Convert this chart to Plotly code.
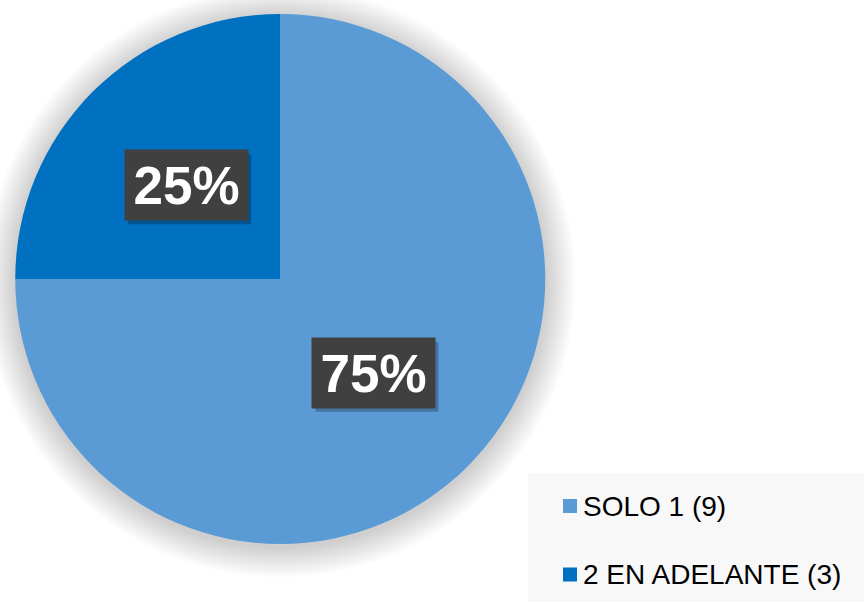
import math
import plotly.graph_objects as go

labels = ["SOLO 1 (9)", "2 EN ADELANTE (3)"]
values = [9, 3]
colors = ["#5B9BD5", "#0070C0"]

W, H = 864, 602
cx, cy, r = 280.25, 279.0, 265.0

fig = go.Figure()
fig.add_trace(go.Pie(
    labels=labels, values=values, sort=False, direction="clockwise", rotation=0,
    marker=dict(colors=colors, line=dict(width=0)),
    textinfo="none", hoverinfo="label+percent", showlegend=False,
    domain=dict(x=[(cx - r) / W, (cx + r) / W], y=[1 - (cy + r) / H, 1 - (cy - r) / H]),
))

shapes = []
# soft shadow around the pie
n = 16
for i in range(n, 0, -1):
    rr = r + i * 1.9
    oy = 3.0
    shapes.append(dict(type="circle", xref="paper", yref="paper", layer="below",
                       x0=(cx - rr) / W, x1=(cx + rr) / W,
                       y0=1 - (cy + oy + rr) / H, y1=1 - (cy + oy - rr) / H,
                       fillcolor="rgba(0,0,0,0.013)", line=dict(width=0)))

# legend background
shapes.append(dict(type="rect", xref="paper", yref="paper", layer="below",
                   x0=528 / W, x1=1, y0=0, y1=1 - 473 / H,
                   fillcolor="#F8F8F8", line=dict(width=0)))

annotations = []
total = sum(values)
start = 0.0
for lab, v in zip(labels, values):
    frac = v / total
    mid = (start + frac / 2) * 2 * math.pi
    start += frac
    px = cx + 0.5 * r * math.sin(mid)
    py = cy - 0.5 * r * math.cos(mid)
    bw, bh = 123, 70
    # box shadow
    shapes.append(dict(type="rect", xref="paper", yref="paper", layer="above",
                       x0=(px - bw / 2 + 3) / W, x1=(px + bw / 2 + 3) / W,
                       y0=1 - (py + bh / 2 + 4) / H, y1=1 - (py - bh / 2 + 4) / H,
                       fillcolor="rgba(0,0,0,0.25)", line=dict(width=0)))
    annotations.append(dict(
        x=px / W, y=1 - py / H, xref="paper", yref="paper", showarrow=False,
        text=f"<b>{round(frac * 100)}%</b>", width=bw, height=bh, borderpad=0,
        bgcolor="#404040", font=dict(family="Liberation Sans, Arial", size=53, color="white"),
        xanchor="center", yanchor="middle"))

# legend entries
leg_y = [506, 574.5]
for lab, col, ly in zip(labels, colors, leg_y):
    shapes.append(dict(type="rect", xref="paper", yref="paper", layer="above",
                       x0=563 / W, x1=577 / W, y0=1 - (ly + 7) / H, y1=1 - (ly - 7) / H,
                       fillcolor=col, line=dict(width=0)))
    annotations.append(dict(
        x=581 / W, y=1 - ly / H, xref="paper", yref="paper", showarrow=False,
        text=lab, xanchor="left", yanchor="middle",
        font=dict(family="Liberation Sans, Arial", size=28, color="#000000")))

fig.update_layout(
    width=W, height=H, margin=dict(l=0, r=0, t=0, b=0),
    paper_bgcolor="white", plot_bgcolor="white",
    shapes=shapes, annotations=annotations, showlegend=False,
)

fig.write_html("out.html", config={"displayModeBar": False},
               post_script="document.body.style.margin='0';document.body.style.padding='0';")
